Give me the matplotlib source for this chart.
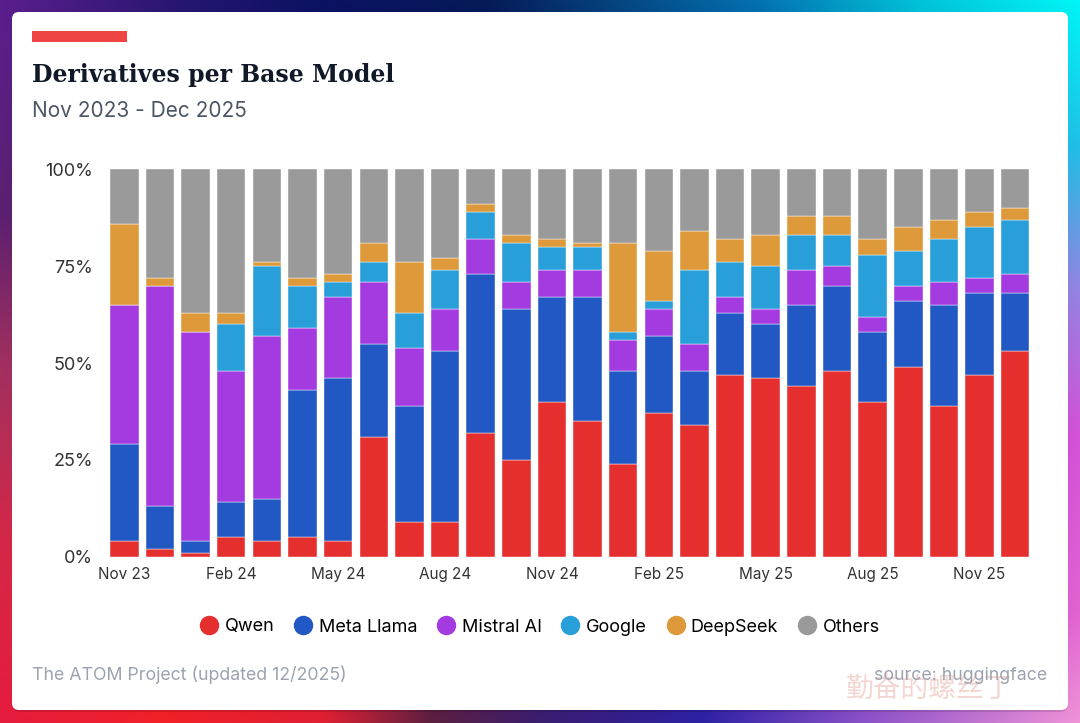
import numpy as np
import matplotlib
matplotlib.use("Agg")
import matplotlib.pyplot as plt
from matplotlib.patches import FancyBboxPatch, Rectangle
from matplotlib.lines import Line2D
from matplotlib.colors import to_rgb

# data (share of derivatives, %)
months = ["Nov 23", "Dec 23", "Jan 24", "Feb 24", "Mar 24", "Apr 24", "May 24",
          "Jun 24", "Jul 24", "Aug 24", "Sep 24", "Oct 24", "Nov 24", "Dec 24",
          "Jan 25", "Feb 25", "Mar 25", "Apr 25", "May 25", "Jun 25", "Jul 25",
          "Aug 25", "Sep 25", "Oct 25", "Nov 25", "Dec 25"]
qwen = [4, 2, 1, 5, 4, 5, 4, 31, 9, 9, 32, 25, 40, 35, 24, 37, 34, 47, 46, 44, 48, 40, 49, 39, 47, 53]
llama = [25, 11, 3, 9, 11, 38, 42, 24, 30, 44, 41, 39, 27, 32, 24, 20, 14, 16, 14, 21, 22, 18, 17, 26, 21, 15]
mistral = [36, 57, 54, 34, 42, 16, 21, 16, 15, 11, 9, 7, 7, 7, 8, 7, 7, 4, 4, 9, 5, 4, 4, 6, 4, 5]
google = [0, 0, 0, 12, 18, 11, 4, 5, 9, 10, 7, 10, 6, 6, 2, 2, 19, 9, 11, 9, 8, 16, 9, 11, 13, 14]
deepseek = [21, 2, 5, 3, 1, 2, 2, 5, 13, 3, 2, 2, 2, 1, 23, 13, 10, 6, 8, 5, 5, 4, 6, 5, 4, 3]
others = [14, 28, 37, 37, 24, 28, 27, 19, 24, 23, 9, 17, 18, 19, 19, 21, 16, 18, 17, 12, 12, 18, 15, 13, 11, 10]

series_names = ["Qwen", "Meta Llama", "Mistral AI", "Google", "DeepSeek", "Others"]
colors = ["#e52f2f", "#2158c4", "#a33be0", "#289fd9", "#de9a3a", "#9a9a9a"]
tick_idx = [0, 3, 6, 9, 12, 15, 18, 21, 24]
ytick_vals = [0, 25, 50, 75, 100]

W, H = 1080, 723
fig = plt.figure(figsize=(W / 100, H / 100), dpi=100)

# ---- background gradient frame (coons patch from edge colours)
def ramp(stops, t):
    pos = np.array([s[0] for s in stops])
    cols = np.array([to_rgb(s[1]) for s in stops])
    return np.stack([np.interp(t, pos, cols[:, k]) for k in range(3)], axis=-1)

top = [(0, "#5b1e8e"), (0.18, "#22166f"), (0.3, "#0a1262"), (0.45, "#061a58"),
       (0.55, "#053e78"), (0.7, "#0470b0"), (0.85, "#00c2d8"), (1, "#00f6f6")]
bot = [(0, "#e61c3e"), (0.15, "#f22028"), (0.3, "#e02032"), (0.4, "#5c2040"),
       (0.5, "#3a1e70"), (0.65, "#2c22a4"), (0.8, "#8a52c8"), (1, "#f094d8")]
left = [(0, "#5b1e8e"), (0.3, "#5c2070"), (0.5, "#a03060"), (0.75, "#d42848"), (1, "#e61c3e")]
right = [(0, "#00f6f6"), (0.2, "#20c0e8"), (0.4, "#9484e2"), (0.6, "#d452d8"),
         (0.85, "#e264d2"), (1, "#f094d8")]

u = np.linspace(0, 1, W)
v = np.linspace(0, 1, H)
U, V = np.meshgrid(u, v)
T = ramp(top, u)[None, :, :]
B = ramp(bot, u)[None, :, :]
L = ramp(left, v)[:, None, :]
R = ramp(right, v)[:, None, :]
c00, c10 = np.array(to_rgb(top[0][1])), np.array(to_rgb(top[-1][1]))
c01, c11 = np.array(to_rgb(bot[0][1])), np.array(to_rgb(bot[-1][1]))
Uu, Vv = U[..., None], V[..., None]
img = ((1 - Vv) * T + Vv * B + (1 - Uu) * L + Uu * R
       - ((1 - Uu) * (1 - Vv) * c00 + Uu * (1 - Vv) * c10
          + (1 - Uu) * Vv * c01 + Uu * Vv * c11))
img = np.clip(img, 0, 1)

bg = fig.add_axes([0, 0, 1, 1])
bg.imshow(img, extent=[0, W, H, 0], aspect="auto", zorder=0)
bg.set_xlim(0, W)
bg.set_ylim(H, 0)
bg.axis("off")

# card
bg.add_patch(FancyBboxPatch((13, 14), W - 26, H - 25, boxstyle="round,pad=0,rounding_size=7",
                            fc="black", ec="none", alpha=0.12, zorder=1))
bg.add_patch(FancyBboxPatch((12, 12), W - 24, H - 25, boxstyle="round,pad=0,rounding_size=7",
                            fc="white", ec="none", zorder=2))
bg.add_patch(Rectangle((32, 31), 95, 11, fc="#ef4444", ec="none", zorder=3))

bg.text(32, 75, "Derivatives per Base Model", fontsize=17, fontweight="bold",
        family="DejaVu Serif", color="#111827", va="center", ha="left", zorder=4)
bg.text(32, 111, "Nov 2023 - Dec 2025", fontsize=15, family="Inter",
        color="#4b5563", va="center", ha="left", zorder=4)

# watermark + footer
bg.text(929, 689, "勤奋的螺丝丁", fontsize=20, family=["Noto Sans CJK SC", "DejaVu Sans"],
        color="#f3d6d2", va="center", ha="center", zorder=3)
bg.text(32, 675, "The ATOM Project (updated 12/2025)", fontsize=12.8, family="Inter",
        color="#9ca3af", va="center", ha="left", zorder=4)
bg.text(1047, 675, "source: huggingface", fontsize=12.8, family="Inter",
        color="#9ca3af", va="center", ha="right", zorder=4)

# ---- stacked bars
ax = fig.add_axes([106.5 / W, 166.3 / H, 926.5 / W, 387.4 / H])
ax.patch.set_alpha(0)
x = np.arange(len(months))
bottom = np.zeros(len(months))
for name, vals, c in zip(series_names, [qwen, llama, mistral, google, deepseek, others], colors):
    vals = np.array(vals, dtype=float)
    ax.bar(x, vals, bottom=bottom, width=0.8, color=c, edgecolor="white",
           linewidth=0.3, label=name)
    bottom += vals

ax.set_xlim(-0.5, len(months) - 0.5)
ax.set_ylim(0, 100)
ax.set_yticks(ytick_vals)
ax.set_yticklabels([f"{t}%" for t in ytick_vals], fontsize=13, family="Inter", color="#333333")
ax.set_xticks(tick_idx)
ax.set_xticklabels([months[i] for i in tick_idx], fontsize=11, family="Inter", color="#333333")
ax.tick_params(axis="y", length=0, pad=9.5)
ax.tick_params(axis="x", length=0, pad=7.5)
for s in ax.spines.values():
    s.set_visible(False)

handles = [Line2D([], [], marker="o", linestyle="none", markersize=13,
                  markerfacecolor=c, markeredgecolor=c) for c in colors]
fig.legend(handles, series_names, loc="center", bbox_to_anchor=(540 / W, 1 - 627 / H),
           ncol=6, frameon=False, prop={"family": "Inter", "size": 13},
           handletextpad=0.35, columnspacing=1.1, handlelength=1.0)

fig.savefig("out.png", dpi=100)
